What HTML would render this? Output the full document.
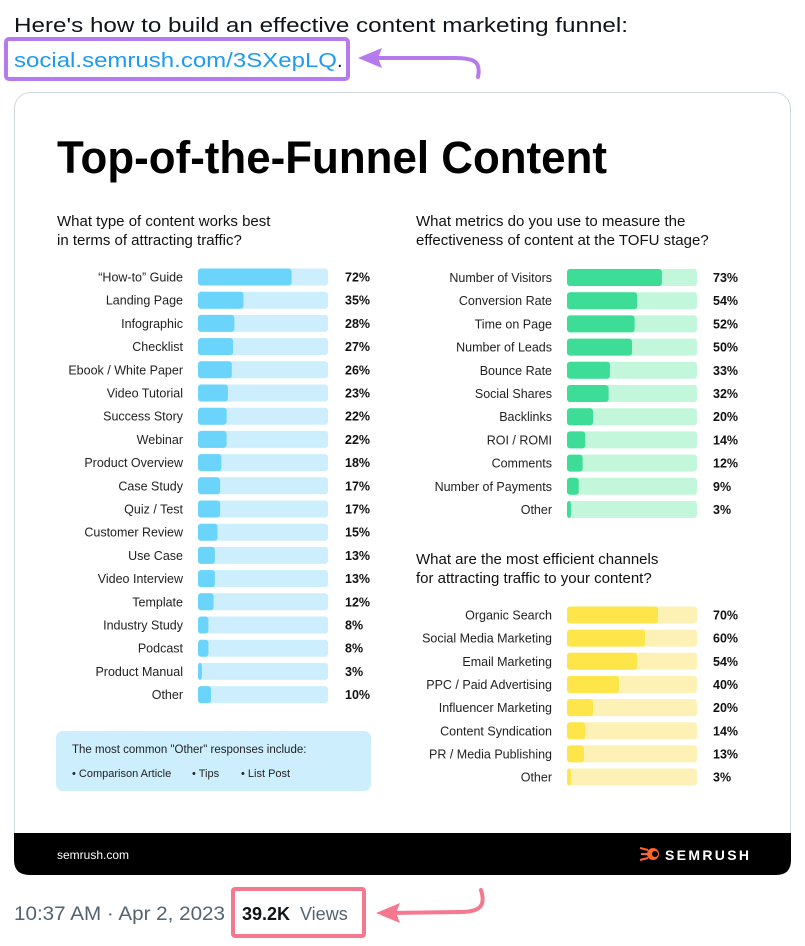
<!DOCTYPE html>
<html><head><meta charset="utf-8"><style>
html,body{margin:0;padding:0;background:#fff;width:805px;height:946px;overflow:hidden}
svg{display:block;font-family:"Liberation Sans",sans-serif}
</style></head><body>
<svg width="805" height="946" viewBox="0 0 805 946" xmlns="http://www.w3.org/2000/svg">
<text x="14" y="32" font-size="20" fill="#0f1419" textLength="614" lengthAdjust="spacingAndGlyphs">Here's how to build an effective content marketing funnel:</text>
<rect x="6" y="39" width="342" height="40" rx="3" fill="none" stroke="#b57bee" stroke-width="4"/>
<text x="14" y="67" font-size="20" fill="#1d9bf0" textLength="323" lengthAdjust="spacingAndGlyphs">social.semrush.com/3SXepLQ</text>
<text x="337" y="67" font-size="20" fill="#0f1419">.</text>
<path d="M478 77 C481 62 475 58 455 58 L366 58" fill="none" stroke="#b57bee" stroke-width="4" stroke-linecap="round"/>
<path d="M358 58 L382 48 L378 58 L382 68 Z" fill="#b57bee"/>

<rect x="14.5" y="92.5" width="776" height="782" rx="16" fill="#fff" stroke="#cfd9de"/>
<path d="M14 833 H791 V860 Q791 875 776 875 H30 Q14 875 14 860 Z" fill="#000"/>
<text x="57" y="859" font-size="12" fill="#fff">semrush.com</text>
<circle cx="653" cy="854" r="6" fill="#ff642d"/>
<circle cx="655" cy="854" r="3" fill="#000"/>
<path d="M640 848 L648 850 M641 854 L647 854 M640 860 L648 858" stroke="#ff642d" stroke-width="2"/>
<text x="665" y="860" font-size="14" font-weight="bold" fill="#fff" textLength="84">SEMRUSH</text>

<text x="57" y="173" font-size="45" font-weight="bold" fill="#000" textLength="550" lengthAdjust="spacingAndGlyphs">Top-of-the-Funnel Content</text>

<g font-size="15" fill="#111">
<text x="57" y="226">What type of content works best</text>
<text x="57" y="245">in terms of attracting traffic?</text>
<text x="416" y="226">What metrics do you use to measure the</text>
<text x="416" y="245">effectiveness of content at the TOFU stage?</text>
<text x="416" y="564">What are the most efficient channels</text>
<text x="416" y="583">for attracting traffic to your content?</text>
</g>

<g id="left" font-size="12.5" fill="#222"></g>
<g id="right" font-size="12.5" fill="#222"></g>

<rect x="56" y="731" width="315" height="60" rx="7" fill="#cdeefd"/>
<text x="72" y="753" font-size="11.5" fill="#222">The most common "Other" responses include:</text>
<g font-size="11" fill="#222">
<text x="72" y="777">• Comparison Article</text>
<text x="192" y="777">• Tips</text>
<text x="241" y="777">• List Post</text>
</g>

<text x="14" y="920" font-size="19" fill="#536471" textLength="211" lengthAdjust="spacingAndGlyphs">10:37 AM · Apr 2, 2023</text>
<rect x="233" y="889" width="131" height="47" rx="2" fill="none" stroke="#f5788f" stroke-width="4"/>
<text x="242" y="920" font-size="18" fill="#0f1419" font-weight="bold">39.2K</text>
<text x="300" y="920" font-size="18" fill="#536471">Views</text>
<path d="M481 890 C486 906 480 912 460 912 L388 913" fill="none" stroke="#f5788f" stroke-width="4" stroke-linecap="round"/>
<path d="M376 913 L400 903 L396 913 L400 923 Z" fill="#f5788f"/>
</svg>
<script>
function rows(g,data,y0,step,lx,bx,px,fill,track){
  var s="";
  data.forEach(function(d,i){
    var c=y0+i*step;
    s+='<text x="'+lx+'" y="'+(c+4.5)+'" text-anchor="end">'+d[0]+'</text>';
    s+='<rect x="'+bx+'" y="'+(c-8.5)+'" width="130" height="17" rx="3" fill="'+track+'"/>';
    s+='<rect x="'+bx+'" y="'+(c-8.5)+'" width="'+Math.max(3,1.3*d[1])+'" height="17" rx="3" fill="'+fill+'"/>';
    s+='<text x="'+px+'" y="'+(c+4.5)+'" font-weight="bold" fill="#111">'+d[1]+'%</text>';
  });
  g.innerHTML+=s;
}
var L=[["“How-to” Guide",72],["Landing Page",35],["Infographic",28],["Checklist",27],["Ebook / White Paper",26],["Video Tutorial",23],["Success Story",22],["Webinar",22],["Product Overview",18],["Case Study",17],["Quiz / Test",17],["Customer Review",15],["Use Case",13],["Video Interview",13],["Template",12],["Industry Study",8],["Podcast",8],["Product Manual",3],["Other",10]];
var G=[["Number of Visitors",73],["Conversion Rate",54],["Time on Page",52],["Number of Leads",50],["Bounce Rate",33],["Social Shares",32],["Backlinks",20],["ROI / ROMI",14],["Comments",12],["Number of Payments",9],["Other",3]];
var Y=[["Organic Search",70],["Social Media Marketing",60],["Email Marketing",54],["PPC / Paid Advertising",40],["Influencer Marketing",20],["Content Syndication",14],["PR / Media Publishing",13],["Other",3]];
rows(document.getElementById("left"),L,277,23.2,183,198,345,"#6ad4fb","#cdeefd");
rows(document.getElementById("right"),G,277.5,23.2,552,567,713,"#3ddc97","#c2f7dc");
rows(document.getElementById("right"),Y,615,23.15,552,567,713,"#fde54a","#fdf1b5");
</script>
</body></html>
